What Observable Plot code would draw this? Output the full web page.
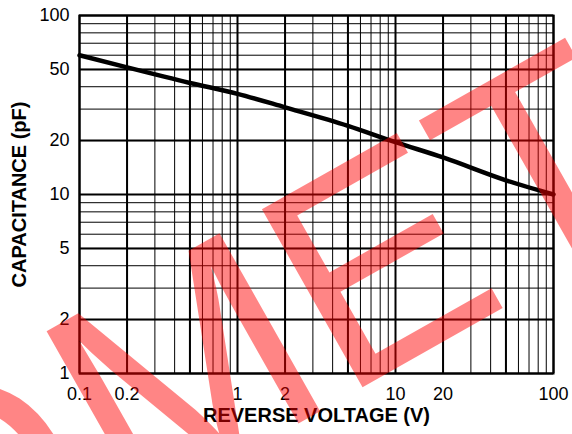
<!DOCTYPE html>
<html><head><meta charset="utf-8">
<script src="https://cdn.jsdelivr.net/npm/d3@7"></script>
<script src="https://cdn.jsdelivr.net/npm/@observablehq/plot@0.6"></script>
<style>html,body{margin:0;padding:0;background:#fff;overflow:hidden} svg{overflow:hidden;display:block}</style>
</head><body><div id="chart"></div>
<script>
// Data
const voltage = [0.1, 0.2, 0.5, 1, 2, 5, 10, 20, 50, 100];
const capacitance = [60, 51.3, 42, 36.5, 30.7, 24.2, 19.6, 16.1, 12.0, 10.0];

// Tick labels
const xTicks = [0.1, 0.2, 0.5, 1, 2, 5, 10, 20, 50, 100];
const yTicks = [1, 2, 5, 10, 20, 50, 100];

// Grid lines
const xGrid = [0.1,0.2,0.3,0.4,0.5,0.6,0.7,0.8,0.9,1,2,3,4,5,6,7,8,9,10,20,30,40,50,60,70,80,90,100];
const yGrid = [1,2,3,4,5,6,7,8,9,10,20,30,40,50,60,70,80,90,100];

const xTitle = "REVERSE VOLTAGE (V)";
const yTitle = "CAPACITANCE (pF)";
const watermarkA = "O";
const watermarkB = "MET";

const rows = voltage.map((v, i) => ({v, c: capacitance[i]}));

const chart = Plot.plot({
  width: 572, height: 434,
  marginLeft: 79, marginRight: 19, marginTop: 15, marginBottom: 61,
  style: {fontFamily: "'Liberation Sans', Arial, sans-serif", fontSize: "18px", color: "#000", background: "#fff"},
  x: {type: "log", domain: [0.1, 100]},
  y: {type: "log", domain: [1, 100]},
  marks: [
    Plot.ruleX(xGrid, {stroke: "#000", strokeWidth: 1}),
    Plot.ruleY(yGrid, {stroke: "#000", strokeWidth: 1}),
    Plot.ruleX(xTicks, {stroke: "#000", strokeWidth: 2}),
    Plot.ruleY(yTicks, {stroke: "#000", strokeWidth: 2}),
    Plot.line(rows, {x: "v", y: "c", stroke: "#000", strokeWidth: 4.5, curve: "monotone-x"}),
    Plot.frame({stroke: "#000", strokeWidth: 2}),
    Plot.axisX({ticks: xTicks, tickFormat: d => String(d), tickSize: 0, tickPadding: 14, label: null, fontSize: 18}),
    Plot.axisY({ticks: yTicks, tickFormat: d => String(d), tickSize: 0, tickPadding: 10, label: null, fontSize: 18}),
    Plot.text([xTitle], {frameAnchor: "bottom", dy: 48, textAnchor: "middle", fontWeight: "bold", fontSize: 20, fill: "#000"}),
    Plot.text([yTitle], {frameAnchor: "left", dx: -60, rotate: -90, textAnchor: "middle", fontWeight: "bold", fontSize: 20, fill: "#000"})
  ]
});
document.getElementById("chart").appendChild(chart);

// Red watermark overlay
const svg = d3.select(chart);
const g = svg.append("g").attr("transform", "translate(126,521) rotate(-29.5)")
  .attr("font-family", "'Liberation Sans', Arial, sans-serif")
  .attr("font-size", 297).attr("fill", "red").attr("fill-opacity", 0.48);
g.append("text").attr("text-anchor", "end").attr("dx", -6).text(watermarkA);
g.append("text").attr("text-anchor", "start").text(watermarkB);
</script>
</body></html>
